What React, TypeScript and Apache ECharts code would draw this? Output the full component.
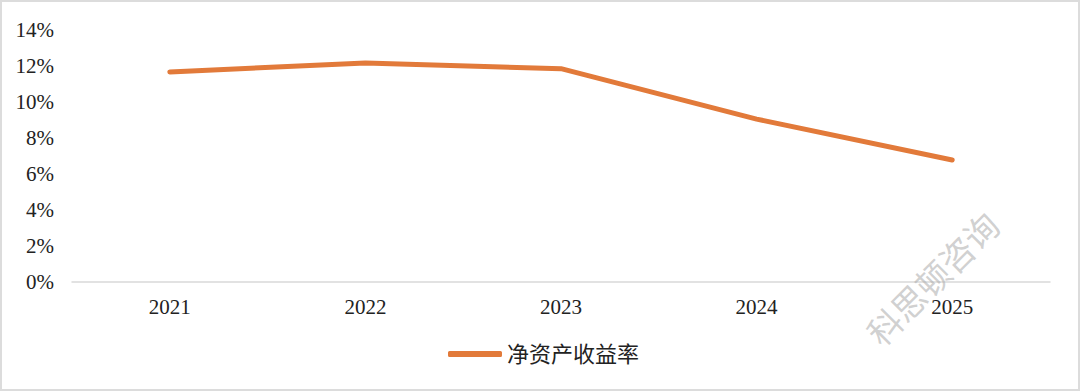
import React, { useEffect, useRef } from "react";
import * as echarts from "echarts";

const years = ["2021", "2022", "2023", "2024", "2025"];
const roe = [11.67, 12.17, 11.85, 9.05, 6.78];
const seriesName = "净资产收益率";
const watermark = "科思顿咨询";

const FONT = '"Liberation Serif", "Noto Sans CJK SC", serif';

export default function App() {
  const ref = useRef<HTMLDivElement>(null);
  useEffect(() => {
    if (!ref.current) return;
    const chart = echarts.init(ref.current, null, { renderer: "svg" });
    chart.setOption({
      animation: false,
      backgroundColor: "transparent",
      grid: { left: 72, right: 30, top: 30, bottom: 109, containLabel: false },
      xAxis: {
        type: "category",
        data: years,
        boundaryGap: true,
        axisLine: { lineStyle: { color: "#d9d9d9", width: 1.5 } },
        axisTick: { show: false },
        axisLabel: { color: "#222", fontSize: 21, fontFamily: FONT, margin: 14 },
      },
      yAxis: {
        type: "value",
        min: 0,
        max: 14,
        interval: 2,
        axisLine: { show: false },
        axisTick: { show: false },
        splitLine: { show: false },
        axisLabel: {
          color: "#222",
          fontSize: 21,
          fontFamily: FONT,
          margin: 18,
          formatter: (v: number) => v + "%",
        },
      },
      legend: {
        bottom: 21,
        left: 443,
        icon: "roundRect",
        itemWidth: 54,
        itemHeight: 6,
        itemGap: 5,
        textStyle: { color: "#222", fontSize: 22, fontFamily: FONT },
        data: [seriesName],
      },
      series: [
        {
          name: seriesName,
          type: "line",
          data: roe,
          symbol: "none",
          lineStyle: { color: "#E27A3A", width: 5, cap: "round", join: "round" },
          itemStyle: { color: "#E27A3A" },
        },
      ],
      graphic: [
        {
          type: "text",
          x: 932,
          y: 278,
          rotation: Math.PI / 4,
          style: {
            text: watermark,
            fontSize: 34,
            fontFamily: '"Noto Sans CJK SC", sans-serif',
            fill: "rgba(170,170,170,0.55)",
            align: "center",
            verticalAlign: "middle",
          },
          z: 100,
        },
      ],
    });
    return () => chart.dispose();
  }, []);
  return (
    <div
      style={{
        position: "fixed",
        left: 0,
        top: 0,
        width: 1080,
        height: 391,
        background: "#fff",
      }}
    >
      <div ref={ref} style={{ position: "absolute", left: 0, top: 0, width: 1080, height: 391 }} />
      <div
        style={{
          position: "absolute",
          left: 0,
          top: 0,
          width: 1080,
          height: 391,
          boxSizing: "border-box",
          border: "2px solid #dcdcdc",
          pointerEvents: "none",
        }}
      />
    </div>
  );
}
